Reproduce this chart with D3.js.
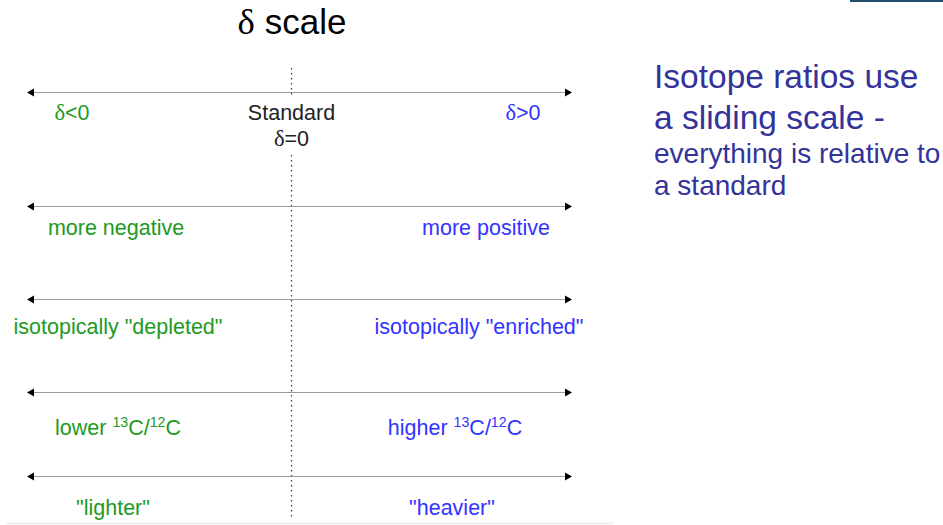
<!DOCTYPE html>
<html>
<head>
<meta charset="utf-8">
<script src="https://cdn.jsdelivr.net/npm/d3@7"></script>
<style>
  html, body { margin: 0; padding: 0; background: #fff; }
  svg { display: block; font-family: "Liberation Sans", Arial, sans-serif; }
</style>
</head>
<body>
<svg id="chart" width="943" height="525"></svg>
<script>
// ---- data ----
const title = "δ scale";
const rowIds = ["delta", "sign", "isotopic", "ratio", "weight"];
const leftLabels = ["δ<0", "more negative", "isotopically \"depleted\"", "lower ¹³C/¹²C", "\"lighter\""];
const rightLabels = ["δ>0", "more positive", "isotopically \"enriched\"", "higher ¹³C/¹²C", "\"heavier\""];
const standardLabel = ["Standard", "δ=0"];
const deltaDomain = [-1, 0, 1];  // negative end, standard, positive end
const sideNotes = ["Isotope ratios use", "a sliding scale -", "everything is relative to", "a standard"];

// ---- layout (positions / styles) ----
const svg = d3.select("#chart");
const x = d3.scaleLinear().domain(deltaDomain).range([27, 291.5, 572]);
const rowY = d3.scaleOrdinal().domain(rowIds).range([92, 206, 299, 392, 476]);
const labelDy = [28, 29, 35, 43, 39];
const leftX = [72, 116, 118, 118, 113];
const rightX = [523, 486, 479, 455, 452];
const green = "#229922", blue = "#3333ff", navy = "#333399";

// top right bar & bottom rule
svg.append("rect").attr("x", 850).attr("y", 0).attr("width", 93).attr("height", 2).attr("fill", "#1f4e6e");
svg.append("line").attr("x1", 6).attr("x2", 613).attr("y1", 523.5).attr("y2", 523.5)
  .attr("stroke", "#eeeeee").attr("stroke-width", 1.5);

// rich text: δ in serif, superscript digits raised
const supMap = {"¹": "1", "²": "2", "³": "3"};
function rich(t, str, size) {
  const parts = str.split(/([¹²³]+|δ)/).filter(s => s.length);
  let raised = false;
  parts.forEach(p => {
    if (/^[¹²³]+$/.test(p)) {
      t.append("tspan").attr("font-size", size * 0.66).attr("dy", raised ? 0 : -size * 0.38)
        .text(p.split("").map(c => supMap[c]).join(""));
      raised = true;
    } else {
      const s = t.append("tspan").attr("dy", raised ? size * 0.38 : 0).text(p);
      if (p === "δ") s.attr("font-family", "'Liberation Serif', 'DejaVu Serif', serif").attr("font-size", size * 1.05);
      raised = false;
    }
  });
  return t;
}

// title
rich(svg.append("text").attr("x", 292).attr("y", 34).attr("text-anchor", "middle")
  .attr("font-size", 35).attr("fill", "#000"), title, 35);

// dotted standard line (interrupted behind the "Standard" label)
const dotSegments = [[68, 98], [155, 518]];
svg.append("g").selectAll("line").data(dotSegments).join("line")
  .attr("x1", x(0)).attr("x2", x(0)).attr("y1", d => d[0]).attr("y2", d => d[1])
  .attr("stroke", "#444").attr("stroke-width", 1.3).attr("stroke-dasharray", "1.5,3.5");

// arrows
const arrowG = svg.append("g").selectAll("g").data(rowIds).join("g")
  .attr("transform", d => `translate(0,${rowY(d)})`);
arrowG.append("line").attr("x1", x(-1) + 4).attr("x2", x(1) - 4).attr("y1", 0.5).attr("y2", 0.5)
  .attr("stroke", "#9a9a9a").attr("stroke-width", 1.2);
arrowG.append("path").attr("d", `M${x(-1)},0.5 L${x(-1) + 7},-3.5 L${x(-1) + 7},4.5 Z`).attr("fill", "#000");
arrowG.append("path").attr("d", `M${x(1)},0.5 L${x(1) - 7},-3.5 L${x(1) - 7},4.5 Z`).attr("fill", "#000");

// row labels
const labelsG = svg.append("g");
const LS = 21.5;
rowIds.forEach((id, i) => {
  rich(labelsG.append("text").attr("x", leftX[i]).attr("y", rowY(id) + labelDy[i])
    .attr("text-anchor", "middle").attr("font-size", LS).attr("fill", green), leftLabels[i], LS);
  rich(labelsG.append("text").attr("x", rightX[i]).attr("y", rowY(id) + labelDy[i])
    .attr("text-anchor", "middle").attr("font-size", LS).attr("fill", blue), rightLabels[i], LS);
});

// standard label
standardLabel.forEach((d, i) => {
  rich(svg.append("text").attr("x", x(0)).attr("y", 120 + i * 26).attr("text-anchor", "middle")
    .attr("font-size", LS).attr("fill", "#222"), d, LS);
});

// side notes
const noteSize = [33.5, 33.5, 28, 28];
const noteY = [88, 129, 163, 195];
svg.append("g").selectAll("text").data(sideNotes).join("text")
  .attr("x", 654).attr("y", (d, i) => noteY[i]).attr("font-size", (d, i) => noteSize[i])
  .attr("fill", navy).text(d => d);
</script>
</body>
</html>
